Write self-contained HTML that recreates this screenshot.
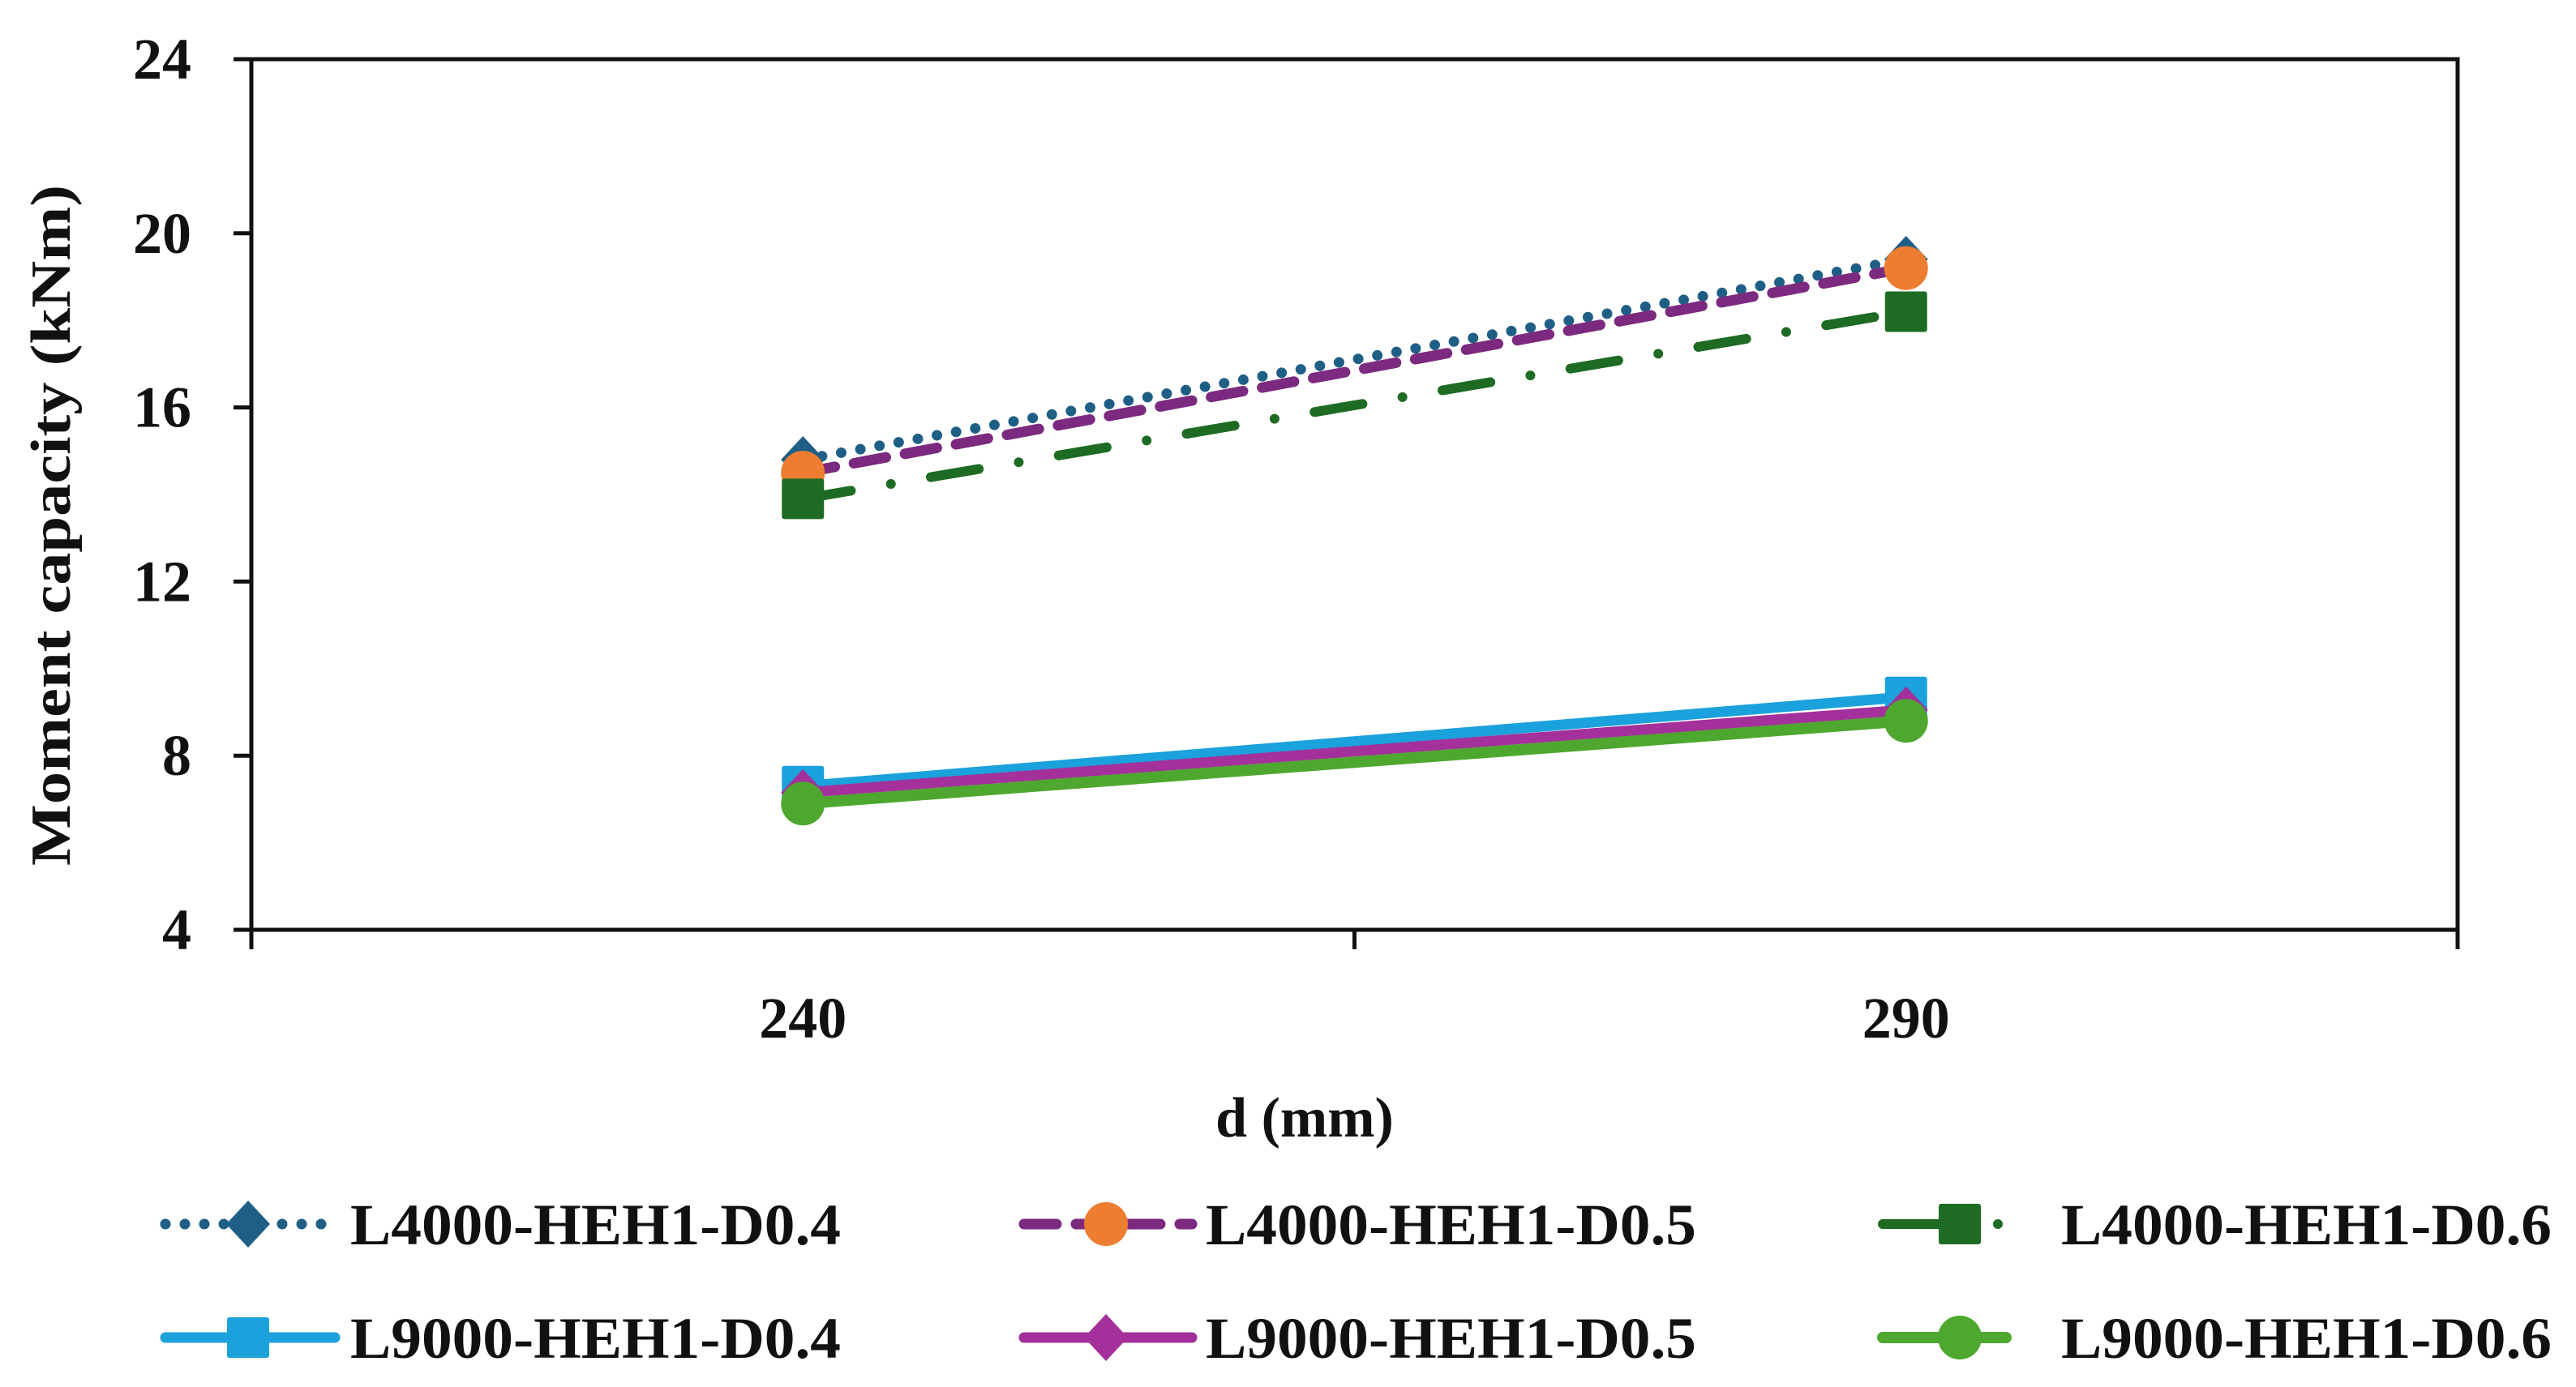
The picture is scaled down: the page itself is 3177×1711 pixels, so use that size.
<!DOCTYPE html>
<html><head><meta charset="utf-8"><style>
html,body{margin:0;padding:0;background:#fff}
svg{display:block}
text{font-family:"Liberation Serif",serif;font-weight:bold;fill:#111}
</style></head><body>
<svg id="chart" width="3177" height="1711" viewBox="0 0 3177 1711" xmlns="http://www.w3.org/2000/svg">
<rect width="3177" height="1711" fill="#fff"/>
<g id="axes"></g><g id="series"></g><g id="legend"></g>
</svg>
<script>
const categories = ["240", "290"];
const yTicks = [4, 8, 12, 16, 20, 24];
const s1 = [14.8, 19.4];
const s2 = [14.5, 19.2];
const s3 = [13.9, 18.2];
const s4 = [7.3, 9.35];
const s5 = [7.15, 9.05];
const s6 = [6.9, 8.8];
const seriesNames = ["L4000-HEH1-D0.4","L4000-HEH1-D0.5","L4000-HEH1-D0.6","L9000-HEH1-D0.4","L9000-HEH1-D0.5","L9000-HEH1-D0.6"];

const NS="http://www.w3.org/2000/svg";
const L=310,R=3031,T=73,B=1147,yMin=4,yMax=24;
const y=v=>B-(v-yMin)/(yMax-yMin)*(B-T);
const band=(R-L)/categories.length;
const x=i=>L+band*(i+0.5);
function mk(tag,attrs,parent){const e=document.createElementNS(NS,tag);for(const k in attrs)e.setAttribute(k,attrs[k]);parent.appendChild(e);return e;}
const axes=document.getElementById('axes');
const border=mk('rect',{x:L,y:T,width:R-L,height:B-T,fill:'none',stroke:'#111','stroke-width':5},axes);


yTicks.forEach(v=>{
  const t=mk('line',{x1:L-22,x2:L,y1:y(v),y2:y(v),stroke:'#111','stroke-width':5},axes);
  
  
  const lb=mk('text',{x:236,y:y(v)+24,'text-anchor':'end','font-size':72},axes);
  lb.textContent=v;
  
  
});
for(let i=0;i<=categories.length;i++){
  const xx=L+band*i;
  const t=mk('line',{x1:xx,x2:xx,y1:B,y2:B+24,stroke:'#111','stroke-width':5},axes);
  
  
}
categories.forEach((c,i)=>{
  const lb=mk('text',{x:x(i),y:1280,'text-anchor':'middle','font-size':72},axes);
  lb.textContent=c;
  
  
});
const xt=mk('text',{x:1609,y:1402,'text-anchor':'middle','font-size':70},axes);
xt.textContent='d (mm)';


const yt=mk('text',{x:0,y:0,'text-anchor':'middle','font-size':70,transform:'translate(86,648) rotate(-90)',textLength:840,lengthAdjust:'spacingAndGlyphs'},axes);
yt.textContent='Moment capacity (kNm)';



const styles=[
 {data:s1,line:'#1f5f86',mark:'#1f5f86',dash:'0 24',ldash:'0 24',w:13,shape:'diamond'},
 {data:s2,line:'#7b2a7f',mark:'#ed7d31',dash:'40 24',ldash:'40 24',w:13,shape:'circle'},
 {data:s3,line:'#1e6b23',mark:'#1e6b23',dash:'60 50 0 50',ldash:'70 72 0 200',w:12,shape:'square'},
 {data:s4,line:'#1ba1dc',mark:'#1ba1dc',dash:'',ldash:'',w:13,shape:'square'},
 {data:s5,line:'#a4309b',mark:'#a4309b',dash:'',ldash:'',w:13,shape:'diamond'},
 {data:s6,line:'#4ea72e',mark:'#4ea72e',dash:'',ldash:'',w:14,shape:'circle'}
];
function marker(shape,cx,cy,col,parent){
  let m;
  if(shape==='diamond')m=mk('polygon',{points:`${cx},${cy-29} ${cx+27},${cy} ${cx},${cy+29} ${cx-27},${cy}`,fill:col},parent);
  else if(shape==='circle')m=mk('circle',{cx:cx,cy:cy,r:27,fill:col},parent);
  else m=mk('rect',{x:cx-26,y:cy-25,width:52,height:50,rx:3,fill:col},parent);
  return m;
}
const sg=document.getElementById('series');
styles.forEach((s,k)=>{
  const g=mk('g',{},sg);
  
  
  const pts=s.data.map((v,i)=>x(i)+','+y(v)).join(' ');
  const pl=mk('polyline',{points:pts,fill:'none',stroke:s.line,'stroke-width':s.w,'stroke-linecap':'round','stroke-dasharray':s.dash||'none'},g);
  
  
  s.data.forEach((v,i)=>{
    const m=marker(s.shape,x(i),y(v),s.mark,g);
    
    
  });
});
const lg=document.getElementById('legend');
const cols=[[204,413,306,432],[1263,1470,1364,1487],[2322,2474,2417,2542]];
const rows=[1510,1650];
styles.forEach((s,k)=>{
  const c=cols[k%3],ry=rows[Math.floor(k/3)];
  const g=mk('g',{},lg);
  
  
  mk('line',{x1:c[0],x2:c[1],y1:ry,y2:ry,stroke:s.line,'stroke-width':s.w,'stroke-linecap':'round','stroke-dasharray':s.ldash||'none'},g);
  marker(s.shape,c[2],ry,s.mark,g);
  const t=mk('text',{x:c[3],y:ry+25,'font-size':72,textLength:605,lengthAdjust:'spacingAndGlyphs'},g);
  t.textContent=seriesNames[k];
});
</script>
</body></html>
